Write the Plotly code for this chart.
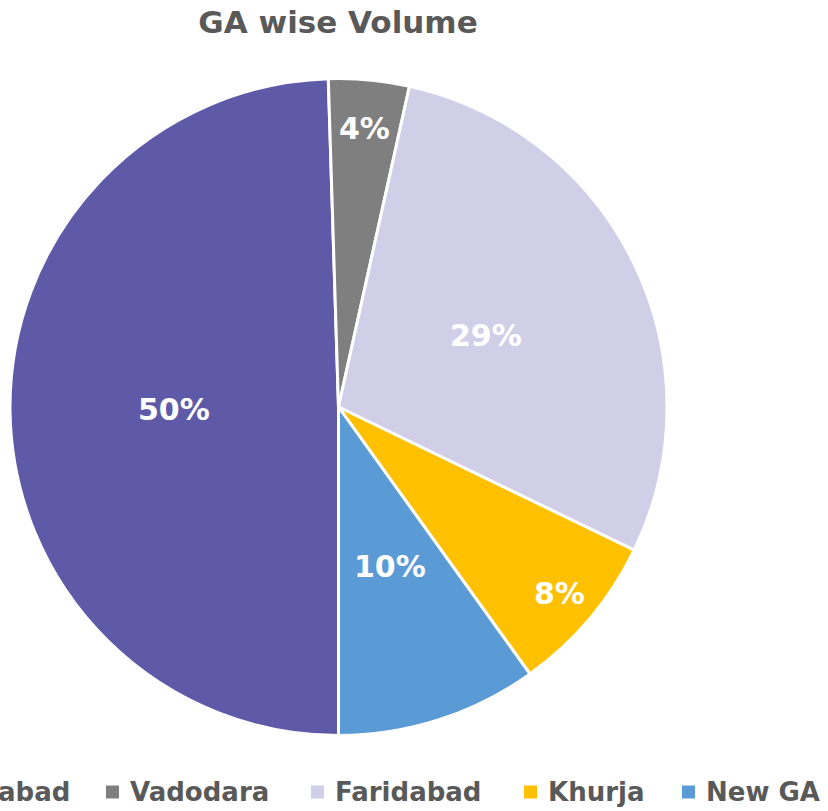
import math
import plotly.graph_objects as go

# Share of volume by geographical area (GA)
areas = ["Ahmedabad", "Vadodara", "Faridabad", "Khurja", "New GA"]
volume_pct = [50, 4, 29, 8, 10]
colors = ["#5E5AA8", "#7F7F7F", "#D1CEE8", "#FFC000", "#5B9BD5"]

# "best fit" placement of the data labels: fraction of the radius per slice
label_radius = [0.50, 0.85, 0.50, 0.88, 0.51]

FONT = "DejaVu Sans"
TEXT_GREY = "#595959"

W, H = 828, 811
M = dict(l=10, r=161, t=78, b=75)
START_ANGLE = 180  # first slice starts at 6 o'clock, runs clockwise

fig = go.Figure(
    go.Pie(
        labels=areas,
        values=volume_pct,
        marker=dict(colors=colors, line=dict(color="white", width=3)),
        sort=False,
        direction="clockwise",
        rotation=START_ANGLE,
        textinfo="none",
        hoverinfo="label+percent",
        showlegend=False,
    )
)

plot_w = W - M["l"] - M["r"]
plot_h = H - M["t"] - M["b"]
R = min(plot_w, plot_h) / 2


def px_to_paper_x(px):
    return (px - M["l"]) / plot_w


def px_to_paper_y(py):
    return (H - M["b"] - py) / plot_h


annotations = []

# Percentage labels at each slice's mid-angle
total = sum(volume_pct)
cum = 0
for v, rf in zip(volume_pct, label_radius):
    mid = math.radians(START_ANGLE + 360 * (cum + v / 2) / total)
    cum += v
    annotations.append(dict(
        text=f"<b>{v}%</b>", xref="paper", yref="paper",
        x=0.5 + rf * R * math.sin(mid) / plot_w,
        y=0.5 + rf * R * math.cos(mid) / plot_h,
        xanchor="center", yanchor="middle", showarrow=False,
        font=dict(family=FONT, size=30, color="white"),
    ))

# Legend row below the pie: colour squares plus bold labels
legend_text_left = [-106, 128, 333, 546, 704]
legend_y = 792
sq = 13
shapes = []
for name, col, tx in zip(areas, colors, legend_text_left):
    mx = tx - 22
    shapes.append(dict(
        type="rect", xref="paper", yref="paper",
        x0=px_to_paper_x(mx), x1=px_to_paper_x(mx + sq),
        y0=px_to_paper_y(legend_y + sq / 2), y1=px_to_paper_y(legend_y - sq / 2),
        fillcolor=col, line=dict(width=0),
    ))
    annotations.append(dict(
        text=f"<b>{name}</b>", xref="paper", yref="paper",
        x=px_to_paper_x(tx), y=px_to_paper_y(legend_y),
        xanchor="left", yanchor="middle", showarrow=False,
        font=dict(family=FONT, size=26, color=TEXT_GREY),
    ))

fig.update_layout(
    width=W, height=H,
    margin=M,
    paper_bgcolor="white", plot_bgcolor="white",
    title=dict(
        text="<b>GA wise Volume</b>",
        x=338 / W, xanchor="center",
        y=1 - 22 / H, yanchor="middle", yref="container",
        font=dict(family=FONT, size=31, color=TEXT_GREY),
    ),
    shapes=shapes,
    annotations=annotations,
)

fig.write_html("out.html")
